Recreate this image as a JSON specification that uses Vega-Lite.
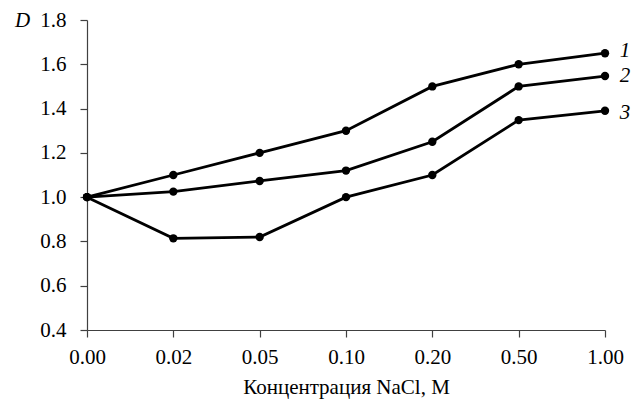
{
  "$schema": "https://vega.github.io/schema/vega-lite/v6.json",
  "width": 518,
  "height": 310,
  "autosize": "none",
  "padding": {"left": 87, "top": 20, "right": 32, "bottom": 82},
  "background": "white",
  "config": {
    "view": {"stroke": null},
    "font": "Times New Roman, Liberation Serif, serif",
    "axis": {"grid": false, "domainColor": "#404040", "tickColor": "#404040", "domainWidth": 1.2, "tickWidth": 1.2, "tickSize": 7, "labelColor": "black", "titleColor": "black", "labelFont": "Times New Roman, Liberation Serif, serif", "titleFont": "Times New Roman, Liberation Serif, serif", "labelFontSize": 21, "titleFontWeight": "normal"}
  },
  "datasets": {
    "series": [
      {"c": "0.00", "D": 1.0, "s": "1"},
      {"c": "0.02", "D": 1.10, "s": "1"},
      {"c": "0.05", "D": 1.20, "s": "1"},
      {"c": "0.10", "D": 1.30, "s": "1"},
      {"c": "0.20", "D": 1.50, "s": "1"},
      {"c": "0.50", "D": 1.60, "s": "1"},
      {"c": "1.00", "D": 1.65, "s": "1"},
      {"c": "0.00", "D": 1.0, "s": "2"},
      {"c": "0.02", "D": 1.025, "s": "2"},
      {"c": "0.05", "D": 1.073, "s": "2"},
      {"c": "0.10", "D": 1.12, "s": "2"},
      {"c": "0.20", "D": 1.25, "s": "2"},
      {"c": "0.50", "D": 1.50, "s": "2"},
      {"c": "1.00", "D": 1.547, "s": "2"},
      {"c": "0.00", "D": 1.0, "s": "3"},
      {"c": "0.02", "D": 0.814, "s": "3"},
      {"c": "0.05", "D": 0.82, "s": "3"},
      {"c": "0.10", "D": 1.00, "s": "3"},
      {"c": "0.20", "D": 1.10, "s": "3"},
      {"c": "0.50", "D": 1.348, "s": "3"},
      {"c": "1.00", "D": 1.39, "s": "3"}
    ],
    "labels": [
      {"c": "1.00", "D": 1.66, "t": "1"},
      {"c": "1.00", "D": 1.545, "t": "2"},
      {"c": "1.00", "D": 1.38, "t": "3"}
    ]
  },
  "layer": [
    {
      "mark": {"type": "rule", "strokeDash": [6, 4], "strokeWidth": 1.5, "color": "black"},
      "encoding": {"y": {"datum": 1.0, "type": "quantitative", "scale": {"domain": [0.4, 1.8]}}}
    },
    {
      "data": {"name": "series"},
      "mark": {"type": "line", "color": "black", "strokeWidth": 2.8, "point": {"filled": true, "color": "black", "size": 70}},
      "encoding": {
        "x": {"field": "c", "type": "ordinal", "sort": null, "scale": {"type": "point", "padding": 0},
              "axis": {"labelAngle": 0, "labelPadding": 9, "labelFontSize": 21,
                       "title": "Концентрация NaCl, M", "titleFontSize": 21, "titlePadding": 9}},
        "y": {"field": "D", "type": "quantitative", "scale": {"domain": [0.4, 1.8]},
              "axis": {"values": [0.4, 0.6, 0.8, 1.0, 1.2, 1.4, 1.6, 1.8], "format": ".1f", "labelPadding": 14,
                       "labelFontSize": 21,
                       "title": "D", "titleAngle": 0, "titleFontStyle": "italic", "titleFontSize": 21,
                       "titleX": -65, "titleY": 0, "titleAlign": "center", "titleBaseline": "middle"}},
        "detail": {"field": "s"}
      }
    },
    {
      "data": {"name": "labels"},
      "mark": {"type": "text", "dx": 20, "fontStyle": "italic", "fontSize": 21, "font": "Times New Roman, Liberation Serif, serif", "color": "black", "baseline": "middle"},
      "encoding": {
        "x": {"field": "c", "type": "ordinal", "sort": null},
        "y": {"field": "D", "type": "quantitative"},
        "text": {"field": "t"}
      }
    }
  ]
}
